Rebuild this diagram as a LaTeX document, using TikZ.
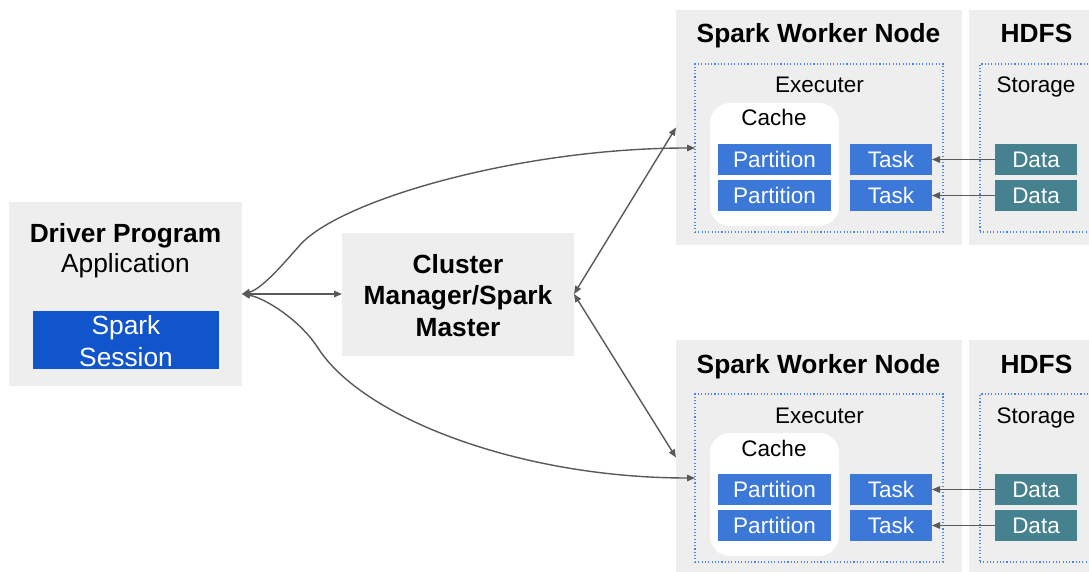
\documentclass[tikz,border=0pt]{standalone}
\usepackage{fontspec}
\setmainfont{Liberation Sans}
\usetikzlibrary{arrows.meta}

\definecolor{panel}{HTML}{EEEEEE}
\definecolor{sessionblue}{HTML}{1155CC}
\definecolor{taskblue}{HTML}{3C78D8}
\definecolor{dotblue}{HTML}{4A86E8}
\definecolor{datateal}{HTML}{45818E}
\definecolor{wire}{HTML}{595959}

\tikzset{
  box/.style={rectangle, inner sep=0pt, outer sep=0pt},
  panelbox/.style={box, fill=panel},
  dotbox/.style={box, draw=dotblue, line width=1.1pt, dash pattern=on 1.1pt off 2.2pt},
  cachebox/.style={box, fill=white, rounded corners=20pt},
  bluebox/.style={box, fill=taskblue, text=white, font=\fontsize{22.5}{26}\selectfont},
  databox/.style={box, fill=datateal, text=white, font=\fontsize{22.5}{26}\selectfont},
  headtxt/.style={anchor=base, inner sep=0pt, font=\fontsize{26.3}{31}\selectfont\bfseries},
  bigtxt/.style={anchor=base, inner sep=0pt, font=\fontsize{26.3}{31}\selectfont},
  smalltxt/.style={anchor=base, inner sep=0pt, font=\fontsize{22.5}{26}\selectfont},
  link/.style={draw=wire, line width=1.4pt, arrows={-Triangle[length=8pt,width=6.5pt]}},
  twoway/.style={draw=wire, line width=1.4pt, arrows={Triangle[length=8pt,width=6.5pt]-Triangle[length=8pt,width=6.5pt]}},
}

\begin{document}
\begin{tikzpicture}[x=1pt, y=-1pt]
\useasboundingbox (0,0) rectangle (1089,572);
\clip (0,0) rectangle (1089,572);

% driver program
\node[panelbox, minimum width=233pt, minimum height=183pt] (drv) at (125.5,294) {};
\node[headtxt] (drvtitle) at (125.5,242) {Driver Program};
\node[bigtxt] (drvapp) at (125.5,272) {Application};
\node[box, fill=sessionblue, minimum width=186pt, minimum height=58pt] (sess) at (126,340) {};
\node[bigtxt, text=white] (sessa) at (126,334) {Spark};
\node[bigtxt, text=white] (sessb) at (126,366) {Session};

% cluster manager
\node[panelbox, minimum width=232pt, minimum height=123pt] (cl) at (458,294) {};
\node[headtxt] (cla) at (458,273) {Cluster};
\node[headtxt] (clb) at (458,304.5) {Manager/Spark};
\node[headtxt] (clc) at (458,336) {Master};

% worker nodes with their HDFS storage
\foreach \i/\dy in {1/0, 2/330} {
  \node[panelbox, minimum width=286pt, minimum height=235pt] (w\i) at (819,127.5+\dy) {};
  \node[panelbox, minimum width=140pt, minimum height=235pt, anchor=west] (h\i) at (969,127.5+\dy) {};
  \node[headtxt] (wt\i) at (818.5,43+\dy) {Spark Worker Node};
  \node[headtxt] (ht\i) at (1036.5,43+\dy) {HDFS};
  \node[dotbox, minimum width=248pt, minimum height=168pt] (e\i) at (819,148+\dy) {};
  \node[dotbox, minimum width=140pt, minimum height=168pt, anchor=west] (s\i) at (980,148+\dy) {};
  \node[smalltxt] (et\i) at (819.5,93+\dy) {Executer};
  \node[smalltxt] (st\i) at (1036,93+\dy) {Storage};
  \node[cachebox, minimum width=129pt, minimum height=123pt] (c\i) at (774.5,164.5+\dy) {};
  \node[smalltxt] (ct\i) at (774,126+\dy) {Cache};
  \node[bluebox, minimum width=113pt, minimum height=31pt] (pa\i) at (774.5,159.5+\dy) {Partition};
  \node[bluebox, minimum width=113pt, minimum height=31pt] (pb\i) at (774.5,195.5+\dy) {Partition};
  \node[bluebox, minimum width=82pt, minimum height=31pt] (ta\i) at (891,159.5+\dy) {Task};
  \node[bluebox, minimum width=82pt, minimum height=31pt] (tb\i) at (891,195.5+\dy) {Task};
  \node[databox, minimum width=82pt, minimum height=31pt] (da\i) at (1036,159.5+\dy) {Data};
  \node[databox, minimum width=82pt, minimum height=31pt] (db\i) at (1036,195.5+\dy) {Data};
  \draw[link] (da\i) -- (ta\i);
  \draw[link] (db\i) -- (tb\i);
}

% driver <-> cluster manager <-> workers
\draw[twoway] (drv.east) -- (cl.west);
\draw[twoway] (cl.east) -- (w1.west);
\draw[twoway] (cl.east) -- (w2.west);

% driver <-> executors
\draw[twoway] (drv.east) .. controls (262,289) and (285,262) .. (300,245)
  .. controls (340,200) and (520,148) .. (e1.west);
\draw[twoway] (drv.east) .. controls (265,298) and (300,320) .. (318,348)
  .. controls (363,418) and (520,478) .. (e2.west);
\end{tikzpicture}
\end{document}
